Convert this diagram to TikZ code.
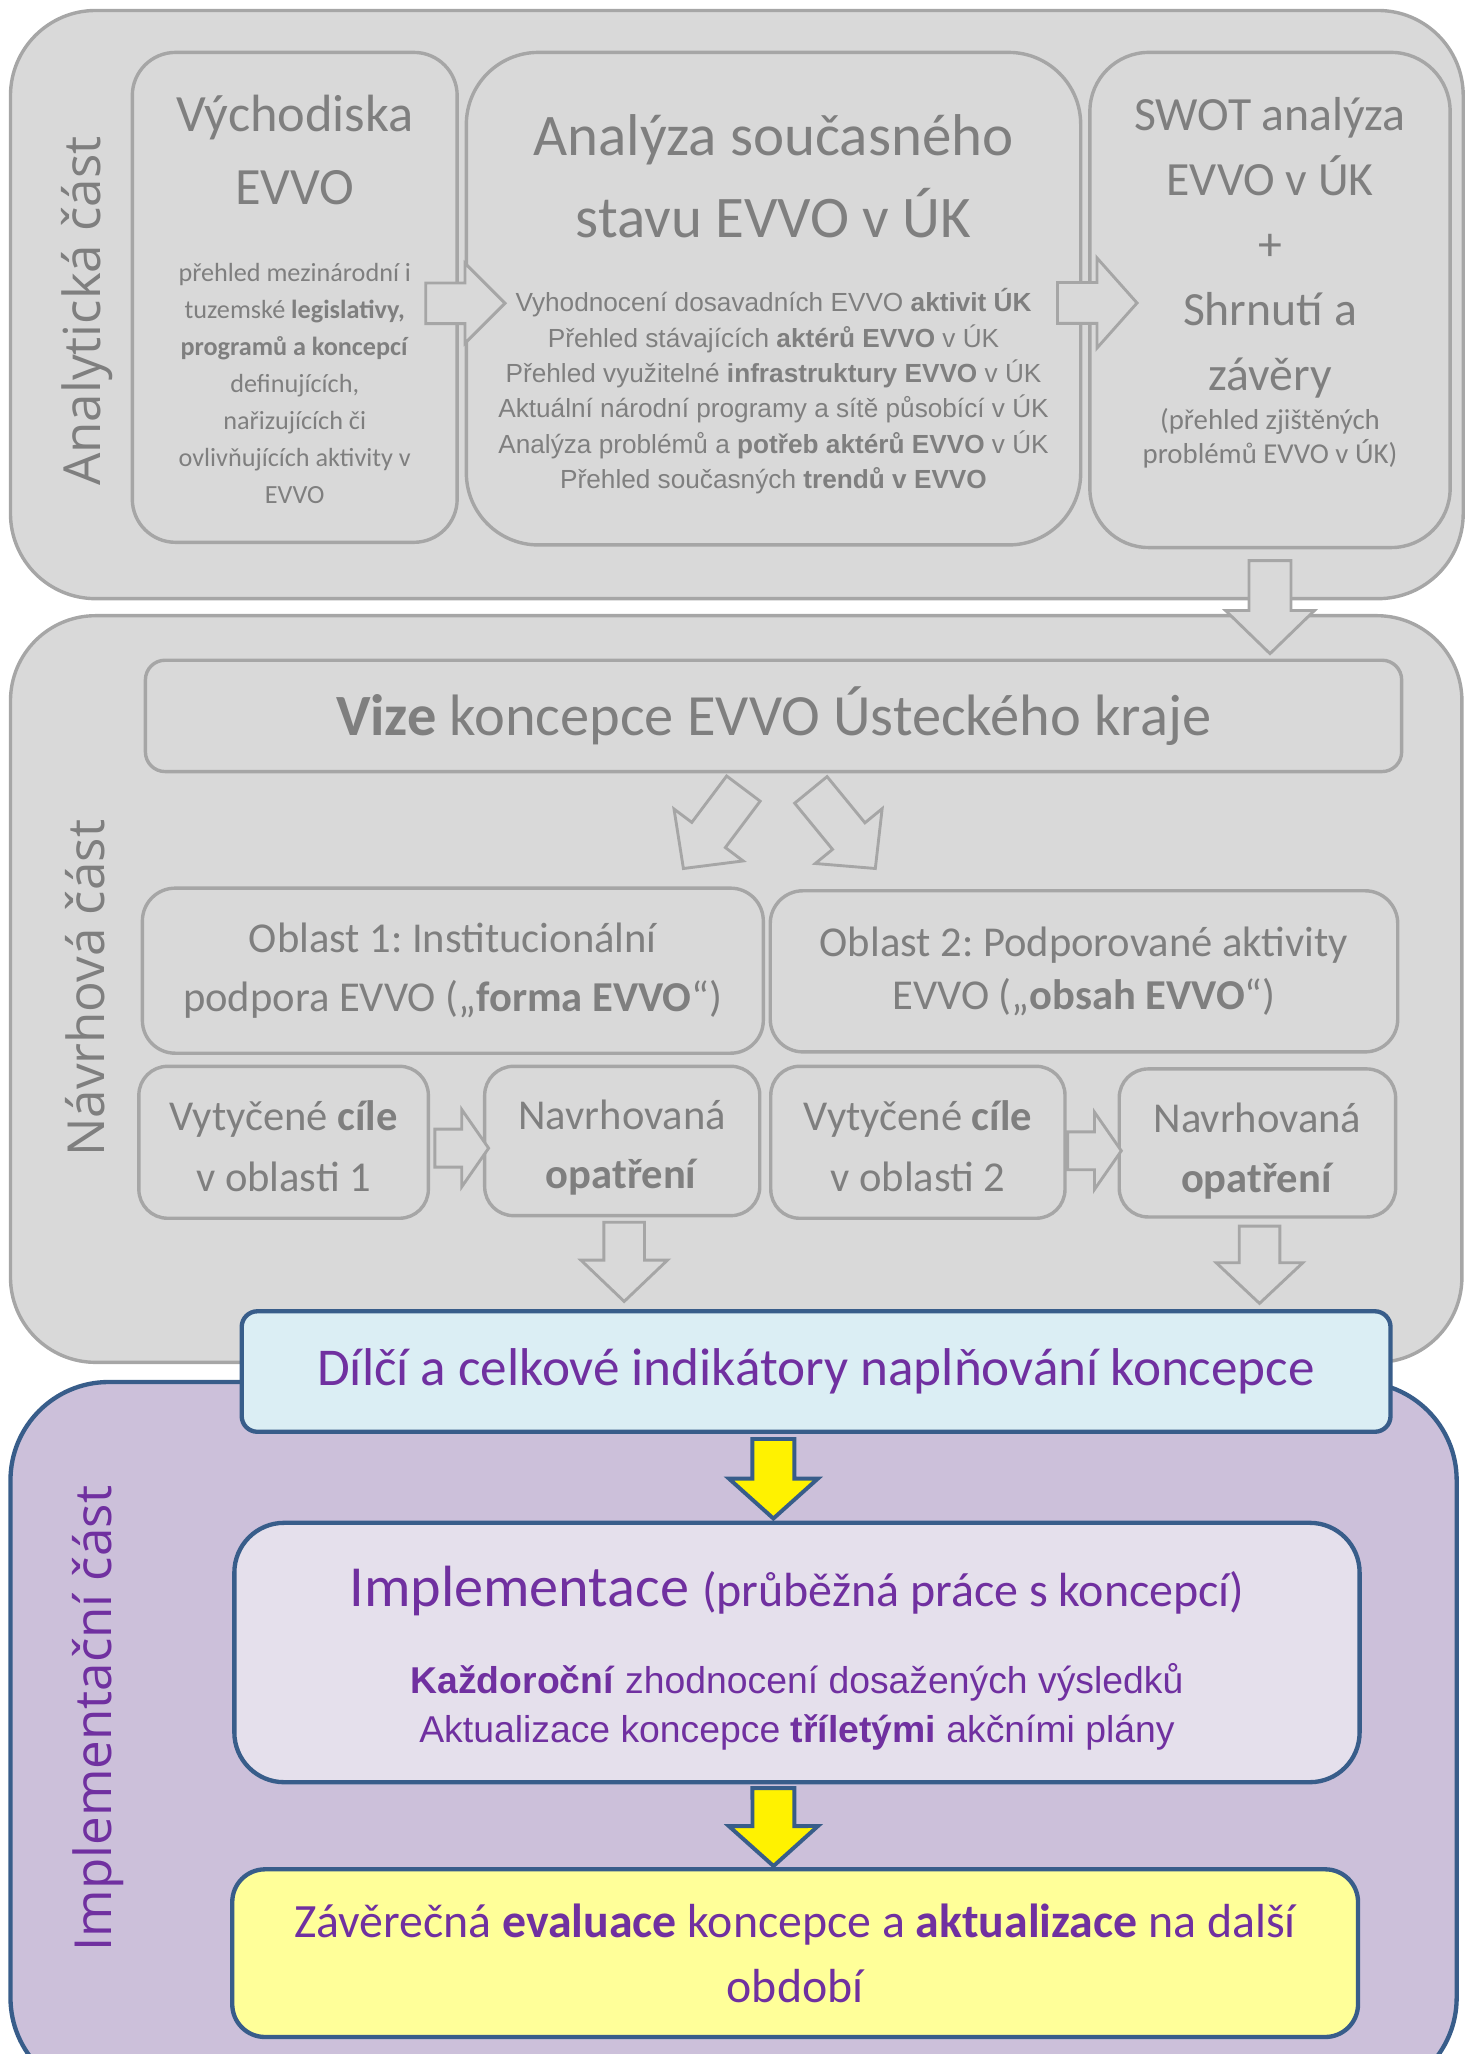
\documentclass[tikz,border=0pt]{standalone}
\usepackage{fontspec}
\setmainfont{Carlito}
\newfontfamily\arialf{Liberation Sans}
\newfontfamily\sidef{Open Sans}
\usetikzlibrary{calc,positioning}
\definecolor{BoxFill}{HTML}{D9D9D9}
\definecolor{BoxLine}{HTML}{A6A6A6}
\definecolor{GrayText}{HTML}{7F7F7F}
\definecolor{Plum}{HTML}{7030A0}
\definecolor{NavyLine}{HTML}{385D8A}
\definecolor{ImplFill}{HTML}{CCC0DA}
\definecolor{IndFill}{HTML}{DBEEF4}
\definecolor{LilacFill}{HTML}{E5E0EC}
\definecolor{PaleYellow}{HTML}{FFFF99}
\frenchspacing
\tikzset{
	partbox/.style={draw=BoxLine,fill=BoxFill,line width=2.6pt,rounded corners=65pt,inner sep=0pt,outer sep=0pt},
	graybox/.style={draw=BoxLine,fill=BoxFill,line width=2.6pt,text=GrayText,align=center,inner sep=0pt,outer sep=0pt},
	bluebox/.style={draw=NavyLine,line width=3.3pt,text=Plum,align=center,inner sep=0pt,outer sep=0pt},
	sidelbl/.style={rotate=90,anchor=base,font=\sidef\fontsize{39}{47}\selectfont},
	garrow/.style={draw=BoxLine,fill=BoxFill,line width=2.2pt},
	yarrow/.style={draw=NavyLine,fill=yellow,line width=3pt}
}
\def\fs#1#2{\fontsize{#1}{#2}\selectfont\spaceskip=\fontdimen2\font\xspaceskip=\spaceskip\relax}
% block arrow: style, from, to, half shaft, half head, head length
\def\blockarrow#1#2#3#4#5#6{%
	\path ($(#3)!#6!(#2)$) coordinate (hb);
	\draw[#1] ($(#2)!#4!90:(#3)$) -- ($(hb)!#4!90:(#3)$) -- ($(hb)!#5!90:(#3)$) -- (#3)
		-- ($(hb)!#5!-90:(#3)$) -- ($(hb)!#4!-90:(#3)$) -- ($(#2)!#4!-90:(#3)$) -- cycle;}

\begin{document}
\begin{tikzpicture}[x=1pt,y=-1pt]
\useasboundingbox (0,0) rectangle (1121,1568);
% the three parts
\node[partbox,minimum width=1109pt,minimum height=449pt] (analytic) at (562.5,232.5) {};
\node[partbox,minimum width=1108pt,minimum height=570pt] (design) at (562,755) {};
\node[partbox,draw=NavyLine,fill=ImplFill,line width=3.3pt,rounded corners=75pt,minimum width=1104pt,minimum height=545pt] (implpart) at (560,1327.5) {};
\node[sidelbl,text=GrayText] (analyticlbl) at (77,237.5) {Analytická část};
\node[sidelbl,text=GrayText] (designlbl) at (80,754.5) {Návrhová část};
\node[sidelbl,text=Plum] (impllbl) at (85,1312) {Implementační část};

% analytic part
\node[graybox,rounded corners=33pt,minimum width=248pt,minimum height=374pt,text width=240pt] (vych) at (225,227)
	{\fs{40}{56}Východiska\\EVVO\par\vspace{30pt}
	\fs{20}{28.3}přehled mezinárodní i\\tuzemské \textbf{legislativy,}\\\textbf{programů a koncepcí}\\definujících,\\nařizujících či\\ovlivňujících aktivity v\\EVVO\par\vspace{-3pt}};
\node[graybox,rounded corners=55pt,minimum width=469pt,minimum height=376pt,text width=460pt] (anal) at (590.5,228)
	{\fs{45}{62}Analýza současného\\stavu EVVO v ÚK\par\vspace{30pt}
	\arialf\fs{20}{27}Vyhodnocení dosavadních EVVO \textbf{aktivit ÚK}\\
	Přehled stávajících \textbf{aktérů EVVO} v ÚK\\
	Přehled využitelné \textbf{infrastruktury EVVO} v ÚK\\
	Aktuální národní programy a sítě působící v ÚK\\
	Analýza problémů a \textbf{potřeb aktérů EVVO} v ÚK\\
	Přehled současných \textbf{trendů v EVVO}\par\vspace{-9pt}};
\node[graybox,rounded corners=45pt,minimum width=275pt,minimum height=378pt,text width=266pt] (swot) at (969.5,229)
	{\fs{36.4}{49.5}SWOT analýza\\EVVO v ÚK\\+\\Shrnutí a\\závěry\par\vspace{4pt}
	\fs{22}{26}(přehled zjištěných\\problémů EVVO v ÚK)\par\vspace{26pt}};

% design part
\node[graybox,rounded corners=15pt,minimum width=959pt,minimum height=85pt,font=\fs{44.6}{50}] (vize) at (590.5,546.5)
	{\textbf{Vize} koncepce EVVO Ústeckého kraje};
\node[graybox,rounded corners=25pt,minimum width=474pt,minimum height=126pt,font=\fs{32.5}{45}] (area1) at (345.7,741)
	{Oblast 1: Institucionální\\podpora EVVO („\textbf{forma EVVO}“)};
\node[graybox,rounded corners=25pt,minimum width=479pt,minimum height=123pt,font=\fs{32.5}{40}] (area2) at (827.5,741.5)
	{Oblast 2: Podporované aktivity\\EVVO („\textbf{obsah EVVO}“)};
\node[graybox,rounded corners=22pt,minimum width=221pt,minimum height=116pt,text width=210pt] (goals1) at (216.5,872)
	{\fs{32.5}{46}Vytyčené \textbf{cíle}\\v oblasti 1\par\vspace{-6pt}};
\node[graybox,rounded corners=22pt,minimum width=210pt,minimum height=114pt,text width=200pt] (meas1) at (475,871)
	{\fs{32.5}{45}Navrhovaná\\\textbf{opatření}\par\vspace{-10pt}};
\node[graybox,rounded corners=22pt,minimum width=224.6pt,minimum height=116pt,text width=210pt] (goals2) at (700.7,872)
	{\fs{32.5}{46}Vytyčené \textbf{cíle}\\v oblasti 2\par\vspace{-6pt}};
\node[graybox,rounded corners=22pt,minimum width=211pt,minimum height=113pt,text width=200pt] (meas2) at (959.9,872.5)
	{\fs{32.5}{46}Navrhovaná\\\textbf{opatření}\par\vspace{-12pt}};

% implementation part
\node[bluebox,fill=IndFill,rounded corners=12pt,minimum width=877pt,minimum height=92pt,font=\fs{40.6}{48}] (indic) at (623,1047)
	{Dílčí a celkové indikátory naplňování koncepce};
\node[bluebox,fill=LilacFill,rounded corners=38pt,minimum width=859pt,minimum height=198pt,text width=850pt] (implem) at (608.4,1261.5)
	{\fs{44.4}{50}Implementace {\fs{36.6}{50}(průběžná práce s koncepcí)}\par\vspace{28pt}
	\arialf\fs{28.5}{38}\textbf{Každoroční} zhodnocení dosažených výsledků\\
	Aktualizace koncepce \textbf{tříletými} akčními plány\par\vspace{-9pt}};
\node[bluebox,fill=PaleYellow,rounded corners=25pt,minimum width=859.4pt,minimum height=128pt,font=\fs{36.5}{50}] (final) at (607,1491)
	{Závěrečná \textbf{evaluace} koncepce a \textbf{aktualizace} na další\\období};

% arrows
\coordinate (a1s) at ($(vych.east)+(-24,4.5)$);
\coordinate (a1e) at ($(anal.west)+(29.5,3.5)$);
\blockarrow{garrow}{a1s}{a1e}{15.5pt}{30.5pt}{30.5pt}
\coordinate (a2s) at ($(anal.east)+(-17.7,3.3)$);
\coordinate (a2e) at ($(swot.west)+(36,2.3)$);
\blockarrow{garrow}{a2s}{a2e}{15.6pt}{34.4pt}{30.6pt}
\coordinate (d1s) at ($(swot.south)+(0,10)$);
\coordinate (d1e) at ($(swot.south |- vize.north)+(0,-5)$);
\blockarrow{garrow}{d1s}{d1e}{16pt}{34pt}{33pt}
\coordinate (v1s) at ($(vize.south)+(-23,13)$);
\coordinate (v1e) at ($(area1.north)+(176,-15)$);
\blockarrow{garrow}{v1s}{v1e}{16pt}{33pt}{32pt}
\coordinate (v2s) at ($(vize.south)+(28.5,14)$);
\coordinate (v2e) at ($(area2.north)+(-159.3,-17)$);
\blockarrow{garrow}{v2s}{v2e}{16pt}{33pt}{32pt}
\coordinate (r1s) at ($(goals1.east)+(5,4.5)$);
\coordinate (r1e) at ($(meas1.west)+(3,5.5)$);
\blockarrow{garrow}{r1s}{r1e}{14.5pt}{29.5pt}{20.5pt}
\coordinate (r2s) at ($(goals2.east)+(2,6.5)$);
\coordinate (r2e) at ($(meas2.west)+(1.6,6)$);
\blockarrow{garrow}{r2s}{r2e}{14.5pt}{29.5pt}{20.5pt}
\coordinate (m1s) at ($(meas1.south)+(1.5,5)$);
\coordinate (m1e) at ($(meas1.south |- indic.north)+(1.5,-7.5)$);
\blockarrow{garrow}{m1s}{m1e}{15.5pt}{33pt}{31.5pt}
\coordinate (m2s) at ($(meas2.south)+(1.6,7)$);
\coordinate (m2e) at ($(meas2.south |- indic.north)+(1.6,-6)$);
\blockarrow{garrow}{m2s}{m2e}{15.5pt}{33pt}{31pt}
\coordinate (y1s) at ($(implem.north |- indic.south)+(-18,5.5)$);
\coordinate (y1e) at ($(implem.north)+(-18,-3.3)$);
\blockarrow{yarrow}{y1s}{y1e}{16pt}{34pt}{30.5pt}
\coordinate (y2s) at ($(implem.south)+(-18,4.5)$);
\coordinate (y2e) at ($(final.north)+(-16.5,-2.5)$);
\blockarrow{yarrow}{y2s}{y2e}{16pt}{34pt}{30.5pt}
\end{tikzpicture}
\end{document}
